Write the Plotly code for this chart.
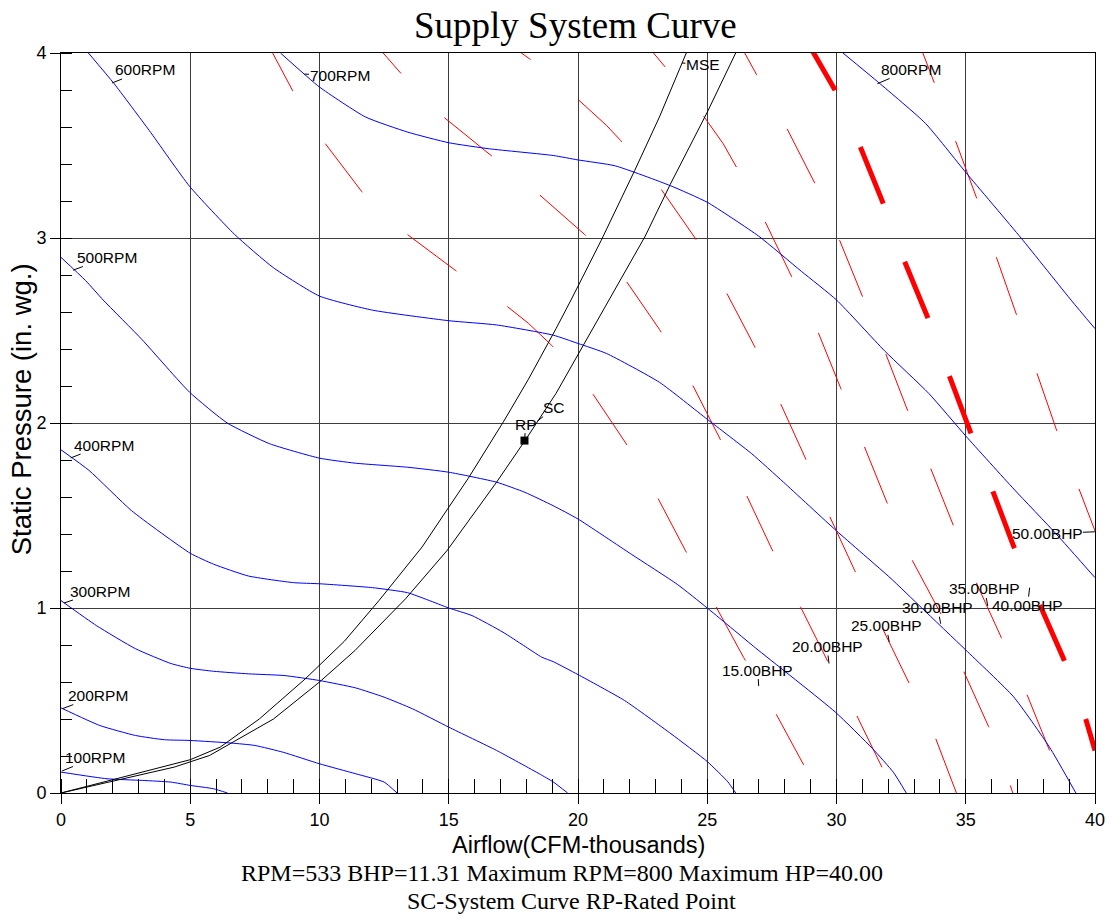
import plotly.graph_objects as go

# ---------------- data ----------------
# fan RPM curves (x = airflow CFM-thousands, y = static pressure in. wg.)
rpm100_x = [0.0, 1.78, 3.15, 4.25, 5.0, 5.9, 6.44]
rpm100_y = [0.113, 0.077, 0.068, 0.059, 0.041, 0.023, 0.0]
rpm200_x = [0.0, 1.5, 2.88, 4.0, 5.0, 6.58, 7.5, 8.6, 10.0, 11.4, 12.5, 13.0]
rpm200_y = [0.46, 0.365, 0.311, 0.288, 0.284, 0.27, 0.257, 0.22, 0.158, 0.104, 0.059, 0.0]
rpm300_x = [0.0, 1.37, 2.88, 4.25, 5.0, 5.9, 7.26, 8.63, 10.0, 11.4, 12.5, 13.6, 15.0, 16.85, 18.5, 19.04, 19.6]
rpm300_y = [1.04, 0.905, 0.78, 0.70, 0.674, 0.658, 0.644, 0.635, 0.608, 0.568, 0.518, 0.455, 0.356, 0.23, 0.104, 0.06, 0.0]
rpm400_x = [0.0, 1.09, 2.73, 5.0, 5.9, 7.25, 9.0, 10.0, 12.05, 13.4, 14.2, 15.0, 15.9, 17.1, 17.9, 18.6,
            19.04, 20.0, 21.8, 23.6, 25.0, 25.8, 26.1]
rpm400_y = [1.855, 1.743, 1.526, 1.296, 1.237, 1.173, 1.137, 1.131, 1.11, 1.083, 1.043, 1.0, 0.959, 0.869, 0.797, 0.734,
            0.71, 0.64, 0.50, 0.32, 0.17, 0.06, 0.0]
rpm500_x = [0.0, 0.95, 1.63, 3.14, 4.97, 6.43, 8.07, 10.0, 11.37, 13.4, 15.0, 16.85, 17.95, 19.04, 20.0, 22.06,
            23.84, 25.0, 26.86, 29.95, 31.4, 32.2, 32.7]
rpm500_y = [2.895, 2.77, 2.665, 2.45, 2.167, 2.0, 1.888, 1.81, 1.783, 1.761, 1.734, 1.68, 1.625, 1.553, 1.481, 1.291,
            1.128, 1.0, 0.785, 0.438, 0.239, 0.112, 0.0]
rpm600_x = [1.06, 2.05, 3.42, 4.97, 6.71, 8.21, 10.0, 12.05, 15.0, 16.85, 19.04, 20.0, 21.1, 23.15, 25.0, 26.72,
            27.95, 30.0, 32.07, 33.3, 35.0, 36.85, 38.23, 39.26]
rpm600_y = [4.0, 3.835, 3.58, 3.28, 3.02, 2.84, 2.686, 2.61, 2.553, 2.53, 2.475, 2.43, 2.376, 2.22, 2.02, 1.834,
            1.68, 1.417, 1.164, 1.0, 0.773, 0.52, 0.25, 0.0]
rpm700_x = [8.49, 10.0, 11.78, 13.42, 15.0, 16.58, 19.04, 20.0, 21.44, 23.57, 25.0, 26.99, 28.64, 30.0, 31.86,
            33.57, 35.0, 36.86, 38.5, 40.0]
rpm700_y = [4.0, 3.816, 3.654, 3.572, 3.515, 3.482, 3.446, 3.422, 3.39, 3.283, 3.193, 3.01, 2.82, 2.665, 2.39,
            2.16, 1.93, 1.643, 1.40, 1.164]
rpm800_x = [30.25, 31.65, 33.44, 35.0, 37.14, 39.1, 40.0]
rpm800_y = [4.0, 3.838, 3.62, 3.355, 3.0, 2.66, 2.51]

# system curves
mse_x = [0.0, 5.0, 6.16, 7.67, 9.45, 10.0, 10.96, 12.3, 13.97, 14.93, 15.75, 17.13, 18.08, 19.15, 19.73, 20.89,
         22.19, 23.15, 24.19]
mse_y = [0.0, 0.18, 0.248, 0.40, 0.617, 0.69, 0.82, 1.04, 1.33, 1.53, 1.70, 2.01, 2.236, 2.51, 2.665, 2.985,
         3.364, 3.654, 4.0]
sc_x = [0.0, 4.38, 5.75, 8.22, 10.0, 11.37, 13.33, 14.93, 16.85, 17.95, 19.15, 21.3, 22.6, 23.57, 25.0, 26.1]
sc_y = [0.0, 0.14, 0.203, 0.40, 0.60, 0.77, 1.05, 1.31, 1.68, 1.905, 2.16, 2.69, 3.01, 3.29, 3.68, 4.0]

# rated point
rp_x = [17.93]
rp_y = [1.905]

# brake horsepower curves
bhp15_x = [7.86, 8.19, 8.97, 10.23, 11.30, 11.64, 13.38, 15.25, 17.19, 18.09, 18.98, 20.55, 21.85, 23.06, 24.15,
           25.28, 26.41, 27.61, 28.73]
bhp15_y = [4.086, 4.00, 3.794, 3.509, 3.310, 3.250, 3.021, 2.826, 2.638, 2.538, 2.420, 2.162, 1.891, 1.602, 1.312,
           1.020, 0.732, 0.441, 0.152]
bhp20_x = [11.60, 12.46, 13.15, 14.80, 16.62, 18.46, 20.25, 21.85, 23.15, 24.39, 25.46, 26.48, 27.50, 28.54, 29.67,
           30.73, 31.76]
bhp20_y = [4.138, 4.00, 3.890, 3.654, 3.446, 3.240, 3.020, 2.770, 2.506, 2.217, 1.924, 1.620, 1.318, 1.025, 0.709,
           0.434, 0.139]
bhp25_x = [16.25, 17.81, 18.16, 19.97, 21.10, 21.65, 23.19, 24.53, 25.73, 26.81, 27.82, 28.78, 29.71, 30.70, 31.72,
           32.75, 33.80, 34.64]
bhp25_y = [4.157, 4.00, 3.965, 3.753, 3.609, 3.527, 3.269, 3.000, 2.708, 2.420, 2.114, 1.815, 1.503, 1.204, 0.907,
           0.609, 0.308, 0.000]
bhp30_x = [21.86, 22.92, 23.37, 24.87, 25.62, 26.13, 27.24, 28.27, 29.29, 30.17, 31.08, 31.95, 32.93, 34.05, 34.90,
           35.88, 36.70, 36.82]
bhp30_y = [4.177, 4.00, 3.925, 3.657, 3.509, 3.383, 3.088, 2.790, 2.490, 2.186, 1.873, 1.571, 1.258, 0.965, 0.664,
           0.360, 0.050, 0.000]
bhp35_x = [25.78, 26.45, 26.92, 28.09, 29.16, 30.12, 31.00, 31.90, 32.75, 33.64, 34.51, 35.38, 36.38, 37.37, 38.24]
bhp35_y = [4.171, 4.00, 3.880, 3.590, 3.296, 2.988, 2.681, 2.376, 2.068, 1.752, 1.450, 1.145, 0.839, 0.532, 0.230]
bhp40_x = [28.77, 29.12, 29.94, 30.90, 31.79, 32.60, 33.50, 34.33, 35.15, 36.04, 36.86, 37.89, 38.78, 39.60, 40.00]
bhp40_y = [4.084, 4.00, 3.800, 3.500, 3.193, 2.885, 2.580, 2.267, 1.960, 1.643, 1.331, 1.010, 0.727, 0.420, 0.230]
bhp50_x = [32.94, 33.34, 33.78, 34.60, 35.42, 36.18, 36.96, 37.75, 38.51, 39.37, 40.00]
bhp50_y = [4.146, 4.00, 3.840, 3.527, 3.216, 2.898, 2.590, 2.271, 1.963, 1.647, 1.417]

# labels
rpm_labels = ["100RPM", "200RPM", "300RPM", "400RPM", "500RPM", "600RPM", "700RPM", "800RPM"]
rpm_label_x = [0.04, 0.058, 0.115, 0.372, 0.47, 1.977, 9.42, 31.58]
rpm_label_y = [0.119, 0.456, 1.027, 1.811, 2.826, 3.838, 3.886, 3.834]
bhp_labels = ["15.00BHP", "20.00BHP", "25.00BHP", "30.00BHP", "35.00BHP", "40.00BHP", "50.00BHP"]
bhp_label_x = [26.99, 29.71, 32.04, 34.03, 35.85, 37.47, 40.0]
bhp_label_y = [0.578, 0.700, 0.817, 0.915, 1.011, 1.110, 1.412]
sys_labels = ["MSE", "SC", "RP"]
sys_label_x = [24.02, 18.43, 17.93]
sys_label_y = [3.946, 2.01, 1.905]

title_text = "Supply System Curve"
x_title = "Airflow(CFM-thousands)"
y_title = "Static Pressure (in. wg.)"
info_line1 = "RPM=533 BHP=11.31 Maximum RPM=800 Maximum HP=40.00"
info_line2 = "SC-System Curve RP-Rated Point"

# ---------------- styling ----------------
SANS = "Liberation Sans, Arial, sans-serif"
SERIF = "Liberation Serif, Times New Roman, serif"

rpm_offsets = [(33, -13.5), (35, -13), (36, -12), (33, -12.9), (33.5, -12.7), (32.5, -13), (35, 1.6), (33.5, -14.2)]
bhp_offsets = [(-1, -16), (-2, -17), (-3, -16), (-3, -16), (-3, -17), (-2, 18), (-48, 2)]
sys_offsets = [(21, 1.5), (17, -13.5), (1.3, -16.5)]

fig = go.Figure()

bhp_curves = [(bhp15_x, bhp15_y, 1), (bhp20_x, bhp20_y, 1), (bhp25_x, bhp25_y, 1), (bhp30_x, bhp30_y, 1),
              (bhp35_x, bhp35_y, 1), (bhp40_x, bhp40_y, 5), (bhp50_x, bhp50_y, 1)]
for xs, ys, w in bhp_curves:
    fig.add_trace(go.Scatter(x=xs, y=ys, mode="lines", hoverinfo="skip",
                             line=dict(color="#ff0000", width=w, dash="61px,62px")))

rpm_curves = [(rpm100_x, rpm100_y), (rpm200_x, rpm200_y), (rpm300_x, rpm300_y), (rpm400_x, rpm400_y),
              (rpm500_x, rpm500_y), (rpm600_x, rpm600_y), (rpm700_x, rpm700_y), (rpm800_x, rpm800_y)]
for xs, ys in rpm_curves:
    fig.add_trace(go.Scatter(x=xs, y=ys, mode="lines", hoverinfo="skip",
                             line=dict(color="#0000ff", width=1, shape="spline", smoothing=0.5)))

for xs, ys in [(mse_x, mse_y), (sc_x, sc_y)]:
    fig.add_trace(go.Scatter(x=xs, y=ys, mode="lines", hoverinfo="skip",
                             line=dict(color="black", width=1)))

fig.add_trace(go.Scatter(x=rp_x, y=rp_y, mode="markers", hoverinfo="skip",
                         marker=dict(symbol="square", size=8, color="black")))

annotations = []
label_font = dict(family=SANS, size=15.5, color="black")
for texts, xs, ys, offs in [(rpm_labels, rpm_label_x, rpm_label_y, rpm_offsets),
                            (bhp_labels, bhp_label_x, bhp_label_y, bhp_offsets),
                            (sys_labels, sys_label_x, sys_label_y, sys_offsets)]:
    for t, x, y, (ax, ay) in zip(texts, xs, ys, offs):
        annotations.append(dict(x=x, y=y, xref="x", yref="y", text=t, showarrow=True,
                                ax=ax, ay=ay, arrowhead=0, arrowwidth=1, arrowcolor="black",
                                standoff=0, borderpad=0, font=label_font))

annotations += [
    dict(text=title_text, x=0.498, y=1.0378, xref="paper", yref="paper", showarrow=False,
         xanchor="center", yanchor="middle", font=dict(family=SERIF, size=37, color="black")),
    dict(text=x_title, x=0.5, y=-0.0703, xref="paper", yref="paper", showarrow=False,
         xanchor="center", yanchor="middle", font=dict(family=SANS, size=23.5, color="black")),
    dict(text=y_title, x=-0.0374, y=0.519, xref="paper", yref="paper", showarrow=False, textangle=-90,
         xanchor="center", yanchor="middle", font=dict(family=SANS, size=27.5, color="black")),
    dict(text=info_line1, x=0.4846, y=-0.1081, xref="paper", yref="paper", showarrow=False,
         xanchor="center", yanchor="middle", font=dict(family=SERIF, size=24, color="black")),
    dict(text=info_line2, x=0.4938, y=-0.1459, xref="paper", yref="paper", showarrow=False,
         xanchor="center", yanchor="middle", font=dict(family=SERIF, size=24, color="black")),
]

axis_common = dict(showgrid=True, gridcolor="#3c3c3c", gridwidth=1, zeroline=False,
                   showline=True, linecolor="black", linewidth=1, mirror=True,
                   ticks="outside", tickcolor="black", ticklen=10, tickwidth=1,
                   tickfont=dict(family=SANS, size=18, color="black"))

fig.update_layout(
    width=1117, height=918,
    margin=dict(l=61, r=14, t=53, b=125),
    plot_bgcolor="white", paper_bgcolor="white",
    showlegend=False,
    annotations=annotations,
    xaxis=dict(range=[0, 40], tick0=0, dtick=5,
               minor=dict(ticks="inside", ticklen=14, dtick=1, tickcolor="black", showgrid=False),
               **axis_common),
    yaxis=dict(range=[0, 4], tick0=0, dtick=1,
               minor=dict(ticks="inside", ticklen=11, dtick=0.2, tickcolor="black", showgrid=False),
               **axis_common),
)

# remove the default page margin so the figure fills the window exactly; hide the mode bar
fig.write_html("out.html", config={"displayModeBar": False},
               post_script="document.body.style.margin='0px';")
